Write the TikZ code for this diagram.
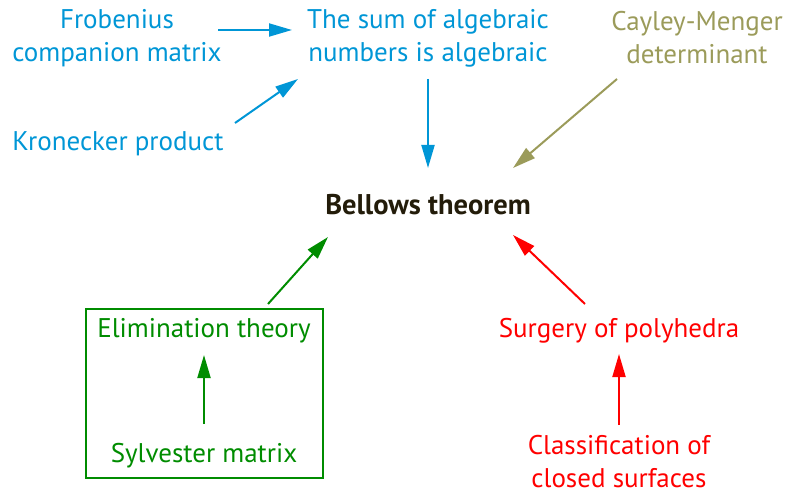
\documentclass[tikz,border=0pt]{standalone}
\usepackage{fontspec}
\setmainfont{PT Sans}
\usetikzlibrary{arrows.meta}
\definecolor{cblue}{RGB}{0,150,214}
\definecolor{colive}{RGB}{155,155,90}
\definecolor{cgreen}{RGB}{0,140,0}
\definecolor{cred}{RGB}{255,0,0}
\definecolor{cdark}{RGB}{35,28,10}
\tikzset{
  lbl/.style={font=\fontsize{27}{33}\selectfont, align=center, inner sep=0pt},
  arr/.style={line width=2pt, -{Triangle[length=23pt,width=13pt]}},
}
\begin{document}
\begin{tikzpicture}[x=1pt,y=-1pt]
\useasboundingbox (0,0) rectangle (790,492);
\node[lbl, text=cblue] (frob) at (117,38) {Frobenius\\companion matrix};
\node[lbl, text=cblue] (sum) at (428,38) {The sum of algebraic\\numbers is algebraic};
\node[lbl, text=colive] (cay) at (697,38) {Cayley-Menger\\determinant};
\node[lbl, text=cblue] (kron) at (118,144) {Kronecker product};
\node[lbl, text=cdark, font=\fontsize{28.5}{33}\selectfont\bfseries] (bell) at (428,205) {Bellows theorem};
\node[lbl, text=cgreen] (elim) at (204,331) {Elimination theory};
\node[lbl, text=cgreen] (sylv) at (204,456) {Sylvester matrix};
\node[draw=cgreen, line width=2pt, minimum width=237pt, minimum height=169pt, inner sep=0pt] (box) at (204.5,393.5) {};
\node[lbl, text=cred] (surg) at (619,331) {Surgery of polyhedra};
\node[lbl, text=cred] (clas) at (619,461.5) {Classification of\\closed surfaces};
\coordinate (f1) at (218,30); \coordinate (f2) at (292,30);
\coordinate (k1) at (235,123); \coordinate (k2) at (298,79);
\coordinate (s1) at (428,79); \coordinate (s2) at (428,168);
\coordinate (c1) at (617,79); \coordinate (c2) at (513,168);
\coordinate (e1) at (268,304); \coordinate (e2) at (328,237);
\coordinate (r1) at (585,304); \coordinate (r2) at (513,235);
\coordinate (y1) at (204,424); \coordinate (y2) at (204,355);
\coordinate (l1) at (619,425); \coordinate (l2) at (619,354);
\draw[arr, cblue] (f1) -- (f2);
\draw[arr, cblue] (k1) -- (k2);
\draw[arr, cblue] (s1) -- (s2);
\draw[arr, colive] (c1) -- (c2);
\draw[arr, cgreen] (e1) -- (e2);
\draw[arr, cred] (r1) -- (r2);
\draw[arr, cgreen] (y1) -- (y2);
\draw[arr, cred] (l1) -- (l2);
\end{tikzpicture}
\end{document}
